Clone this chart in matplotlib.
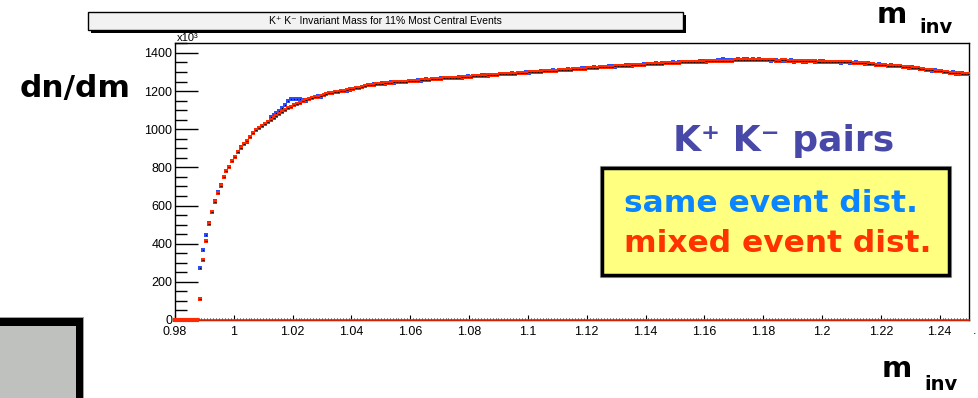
import numpy as np
import matplotlib
matplotlib.use("Agg")
import matplotlib.pyplot as plt
from matplotlib.patches import Rectangle
from matplotlib.ticker import MultipleLocator

# K+K- invariant mass histograms, bins of 1 MeV starting at 0.988 GeV
bin_start = 0.9885
bin_width = 0.001

mixed_event = [
    110, 313, 414, 502, 566, 620, 668, 705, 748, 783,
    804, 835, 856, 881, 903, 922, 936, 957, 978, 995,
    1005, 1017, 1028, 1039, 1049, 1059, 1069, 1080, 1090, 1100,
    1110, 1119, 1126, 1133, 1139, 1146, 1152, 1157, 1163, 1168,
    1171, 1175, 1180, 1183, 1188, 1192, 1194, 1197, 1201, 1202,
    1206, 1210, 1211, 1215, 1218, 1222, 1227, 1231,
    1232, 1234, 1236, 1237, 1239, 1240, 1242, 1243, 1245, 1246,
    1247, 1249, 1250, 1251, 1253, 1254, 1255, 1256, 1258, 1259,
    1260, 1261, 1262, 1263, 1265, 1266, 1267, 1268, 1269, 1270,
    1271, 1272, 1274, 1275, 1276, 1277, 1278, 1279, 1280, 1281,
    1282, 1283, 1284, 1286, 1287, 1288, 1289, 1290, 1291, 1292,
    1293, 1294, 1296, 1297, 1298, 1299, 1300, 1301, 1302, 1303,
    1304, 1305, 1306, 1307, 1309, 1310, 1311, 1312, 1313, 1314,
    1315, 1316, 1317, 1318, 1320, 1321, 1322, 1323, 1324, 1325,
    1326, 1327, 1328, 1329, 1330, 1331, 1332, 1333, 1334, 1335,
    1336, 1337, 1338, 1339, 1340, 1341, 1342, 1343, 1343, 1344,
    1345, 1346, 1347, 1348, 1348, 1349, 1350, 1351, 1351, 1352,
    1353, 1354, 1354, 1355, 1356, 1356, 1357, 1357, 1358, 1358,
    1359, 1359, 1360, 1360, 1361, 1361, 1361, 1362, 1362, 1362,
    1362, 1362, 1362, 1362, 1362, 1361, 1361, 1361, 1360, 1360,
    1361, 1361, 1360, 1360, 1359, 1359, 1358, 1358, 1357, 1357,
    1356, 1356, 1355, 1355, 1354, 1354, 1353, 1353, 1352, 1352,
    1351, 1351, 1350, 1350, 1349, 1348, 1347, 1346, 1345, 1343,
    1342, 1341, 1339, 1338, 1337, 1336, 1334, 1333, 1332, 1331,
    1330, 1328, 1326, 1324, 1322, 1321, 1319, 1317, 1315, 1313,
    1311, 1309, 1307, 1305, 1303, 1301, 1299, 1297, 1296, 1294,
    1293, 1291, 1290, 1289,
]

same_event = [
    274, 367, 446, 510, 568, 622, 670, 706, 748, 783,
    804, 835, 856, 881, 905, 923, 935, 958, 979, 996,
    1005, 1017, 1028, 1040, 1063, 1075, 1087, 1096, 1110, 1127,
    1150, 1157, 1158, 1157, 1157, 1153, 1150, 1157, 1166, 1169,
    1172, 1168, 1178, 1184, 1188, 1191, 1195, 1197, 1200, 1203,
    1201, 1207, 1212, 1214, 1218, 1223, 1229, 1233,
    1233, 1236, 1235, 1238, 1241, 1239, 1243, 1245, 1244, 1247,
    1248, 1250, 1249, 1253, 1252, 1255, 1257, 1255, 1259, 1261,
    1259, 1263, 1264, 1262, 1266, 1268, 1266, 1270, 1271, 1269,
    1273, 1271, 1276, 1277, 1275, 1279, 1280, 1278, 1282, 1283,
    1281, 1285, 1286, 1284, 1289, 1290, 1288, 1292, 1293, 1291,
    1295, 1294, 1297, 1299, 1297, 1301, 1302, 1300, 1304, 1305,
    1303, 1307, 1308, 1306, 1311, 1309, 1313, 1314, 1312, 1316,
    1317, 1315, 1319, 1320, 1319, 1323, 1324, 1322, 1326, 1327,
    1325, 1329, 1330, 1328, 1332, 1333, 1331, 1335, 1336, 1334,
    1338, 1339, 1337, 1341, 1342, 1340, 1344, 1345, 1342, 1346,
    1347, 1345, 1349, 1350, 1347, 1351, 1352, 1350, 1353, 1354,
    1355, 1353, 1357, 1358, 1355, 1359, 1360, 1356, 1361, 1363,
    1366, 1362, 1364, 1361, 1365, 1367, 1363, 1366, 1368, 1364,
    1366, 1363, 1367, 1365, 1362, 1364, 1360, 1363, 1361, 1358,
    1359, 1357, 1356, 1361, 1354, 1356, 1359, 1355, 1353, 1356,
    1358, 1354, 1353, 1357, 1356, 1352, 1355, 1351, 1354, 1350,
    1349, 1353, 1352, 1348, 1347, 1350, 1345, 1348, 1343, 1345,
    1340, 1343, 1337, 1340, 1335, 1338, 1332, 1335, 1330, 1333,
    1332, 1326, 1328, 1322, 1324, 1319, 1321, 1315, 1317, 1311,
    1313, 1307, 1309, 1303, 1305, 1299, 1301, 1295, 1298, 1292,
    1291, 1293, 1288, 1287,
]

mass = bin_start + bin_width * np.arange(len(mixed_event))

W, H = 979, 398
fig = plt.figure(figsize=(W / 100, H / 100), dpi=100)

root_font = ['Liberation Sans', 'DejaVu Sans']
slide_font = ['DejaVu Sans']

# main ROOT frame
ax = fig.add_axes([175 / W, 1 - 320 / H, (969 - 175) / W, (320 - 43) / H])
ax.set_xlim(0.98, 1.25)
ax.set_ylim(0, 1452)

ax.plot(mass, same_event, 's', color='#2a4dff', ms=2.4, mew=0, zorder=3)
ax.plot(mass, same_event, 's', color='black', ms=0.8, mew=0, zorder=3)
ax.plot(mass, mixed_event, 's', color='#ff2a00', ms=2.4, mew=0, zorder=4)
ax.plot(mass, mixed_event, '_', color='black', ms=1.6, mew=0.7, zorder=4)

# empty bins below threshold drawn along zero
ax.plot([0.98, 1.25], [0, 0], color='#ff2a00', lw=1.2, zorder=5, clip_on=False)
ax.plot([0.98, 0.9875], [0, 0], color='#ff2a00', lw=3, zorder=5, clip_on=False)

ax.yaxis.set_major_locator(MultipleLocator(200))
ax.yaxis.set_minor_locator(MultipleLocator(50))
ax.xaxis.set_major_locator(MultipleLocator(0.02))
ax.xaxis.set_minor_locator(MultipleLocator(0.001))
ax.tick_params(axis='y', which='major', direction='in', length=16.5, width=1,
               pad=2, labelsize=9)
ax.tick_params(axis='y', which='minor', direction='in', length=8.5, width=1)
ax.tick_params(axis='x', which='major', direction='in', length=3.5, width=0.8,
               pad=4, labelsize=9)
ax.tick_params(axis='x', which='minor', direction='in', length=1.6, width=0.6)
ax.set_xticks(np.arange(0.98, 1.241, 0.02))
ax.set_xticklabels(['0.98', '1', '1.02', '1.04', '1.06', '1.08', '1.1', '1.12',
                    '1.14', '1.16', '1.18', '1.2', '1.22', '1.24'])
for lab in ax.get_xticklabels() + ax.get_yticklabels():
    lab.set_family(root_font)
for s in ax.spines.values():
    s.set_linewidth(1)

# slide overlay in pixel coordinates
ov = fig.add_axes([0, 0, 1, 1])
ov.set_xlim(0, W)
ov.set_ylim(H, 0)
ov.axis('off')
ov.patch.set_alpha(0)

# ROOT title box with shadow
ov.add_patch(Rectangle((91, 15), 595, 18, fc='black', ec='none'))
ov.add_patch(Rectangle((88, 12), 595, 18, fc='#f2f2f2', ec='black', lw=1))
ov.text(385, 21.5, 'K⁺ K⁻ Invariant Mass for 11% Most Central Events',
        ha='center', va='center', fontsize=7.5, family=root_font)
ov.text(177, 41, 'x10³', ha='left', va='baseline', fontsize=8, family=root_font)
ov.text(975, 334, '.', ha='center', va='baseline', fontsize=9, family=root_font)

# slide annotations
ov.text(20, 97, 'dn/dm', ha='left', va='baseline', fontsize=22.5,
        fontweight='bold', family=slide_font)
ov.text(877, 23, 'm', ha='left', va='baseline', fontsize=21,
        fontweight='bold', family=slide_font)
ov.text(919, 33, 'inv', ha='left', va='baseline', fontsize=14,
        fontweight='bold', family=slide_font)
ov.text(882, 377, 'm', ha='left', va='baseline', fontsize=21,
        fontweight='bold', family=slide_font)
ov.text(924, 390, 'inv', ha='left', va='baseline', fontsize=14,
        fontweight='bold', family=slide_font)
ov.text(673, 151, 'K⁺ K⁻ pairs', ha='left', va='baseline', fontsize=26,
        fontweight='bold', color='#4848a8', family=slide_font)

ov.add_patch(Rectangle((600, 166), 351, 111, fc='none', ec='#a0a0a0', lw=0.8))
ov.add_patch(Rectangle((602, 168), 347, 107, fc='#ffff80', ec='black', lw=2.5))
ov.text(624, 212, 'same event dist.', ha='left', va='baseline', fontsize=22.5,
        fontweight='bold', color='#0a84ff', family=slide_font)
ov.text(624, 252, 'mixed event dist.', ha='left', va='baseline', fontsize=22.5,
        fontweight='bold', color='#ff3300', family=slide_font)

# grey box at lower left
ov.add_patch(Rectangle((0, 317), 84, 90, fc='#a0a0a0', ec='none'))
ov.add_patch(Rectangle((0, 318), 83, 90, fc='black', ec='none'))
ov.add_patch(Rectangle((0, 326), 76, 80, fc='#bfc1bf', ec='none'))

fig.savefig('out.png', dpi=100)
